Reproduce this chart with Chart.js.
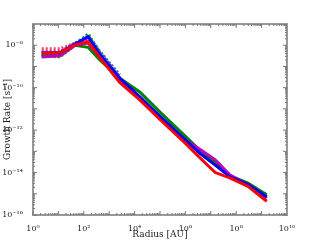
<!DOCTYPE html>
<html>
<head>
<meta charset="utf-8">
<script src="https://cdn.jsdelivr.net/npm/chart.js@4/dist/chart.umd.min.js"></script>
<style>
  html, body { margin: 0; padding: 0; background: #fff; }
  #box { width: 320px; height: 240px; }
</style>
</head>
<body>
<div id="box"><canvas id="c"></canvas></div>
<script>
// radius in AU
const radius = [2.2, 11.5, 45, 148, 437, 2.6e3, 1.6e4, 1e5, 9.6e5, 3.7e6, 1.5e7, 5.6e7, 2.9e8, 1.6e9];
// log10 of growth rate, solid runs
const blueLog    = [-8.36, -8.36, -7.95, -7.60, -8.45, -9.55, -10.43, -11.35, -12.45, -13.10, -13.65, -14.20, -14.55, -15.15];
const greenLog   = [-8.50, -8.50, -8.00, -8.10, -8.70, -9.55, -10.20, -11.15, -12.27, -12.95, -13.55, -14.15, -14.50, -15.05];
const magentaLog = [-8.55, -8.50, -8.00, -7.90, -8.55, -9.60, -10.50, -11.40, -12.45, -12.90, -13.40, -14.10, -14.60, -15.20];
const redLog     = [-8.36, -8.36, -7.98, -7.84, -8.60, -9.75, -10.58, -11.50, -12.60, -13.30, -14.00, -14.25, -14.65, -15.35];
// dotted runs (inner region only)
const dotRadius     = [2.2, 11.5, 45, 148, 437, 2.6e3];
const blueDotLog    = [-8.30, -8.30, -7.90, -7.55, -8.30, -9.40];
const greenDotLog   = [-8.50, -8.55, -8.00, -7.46, -8.35, -9.50];
const magentaDotLog = [-8.45, -8.45, -7.95, -7.70, -8.45, -9.55];
const redDotLog     = [-8.17, -8.17, -7.90, -7.80, -8.55, -9.65];

const xTicks = [0, 2, 4, 6, 8, 10];
const yTicks = [-16, -14, -12, -10, -8];

const sup = s => String(s).split("").map(ch => ({"-": "⁻", "0": "⁰", "1": "¹", "2": "²", "3": "³", "4": "⁴", "5": "⁵", "6": "⁶", "7": "⁷", "8": "⁸", "9": "⁹"}[ch])).join("");

const pts = (xs, ls) => xs.map((x, i) => ({ x: x, y: Math.pow(10, ls[i]) }));

const line = (data, color, order, dotted) => ({
  data: data,
  borderColor: color,
  borderWidth: 3,
  borderDash: dotted ? [2, 2] : [],
  pointRadius: 0,
  fill: false,
  tension: 0,
  order: order,
});

// frame + inward ticks like the original plot
const frame = {
  id: "frame",
  afterDraw(chart) {
    const { ctx, chartArea: a, scales } = chart;
    ctx.save();
    ctx.strokeStyle = "#999";
    ctx.lineWidth = 2;
    ctx.strokeRect(a.left, a.top, a.right - a.left, a.bottom - a.top);
    ctx.lineWidth = 1;
    ctx.strokeStyle = "#777";
    for (let d = 0; d < 10; d++) {
      for (let m = 1; m < 10; m++) {
        const px = scales.x.getPixelForValue(m * Math.pow(10, d));
        const len = m === 1 ? 4 : 2;
        ctx.beginPath();
        ctx.moveTo(px, a.bottom); ctx.lineTo(px, a.bottom - len);
        ctx.moveTo(px, a.top); ctx.lineTo(px, a.top + len);
        ctx.stroke();
      }
    }
    for (let d = -16; d < -7; d++) {
      for (let m = 1; m < 10; m++) {
        const py = scales.y.getPixelForValue(m * Math.pow(10, d));
        const len = m === 1 ? 4 : 2;
        ctx.beginPath();
        ctx.moveTo(a.left, py); ctx.lineTo(a.left + len, py);
        ctx.moveTo(a.right, py); ctx.lineTo(a.right - len, py);
        ctx.stroke();
      }
    }
    ctx.restore();
  },
};

const font = { family: "'DejaVu Serif', serif", size: 8 };

new Chart(document.getElementById("c"), {
  type: "line",
  data: {
    datasets: [
      line(pts(dotRadius, greenDotLog), "#00a000", 8, true),
      line(pts(dotRadius, blueDotLog), "#5050ff", 7, true),
      line(pts(dotRadius, magentaDotLog), "#c000c0", 6, true),
      line(pts(dotRadius, redDotLog), "#ff4060", 5, true),
      line(pts(radius, greenLog), "#008000", 4, false),
      line(pts(radius, magentaLog), "#bf00bf", 3, false),
      line(pts(radius, blueLog), "#0000ff", 2, false),
      line(pts(radius, redLog), "#ff0000", 1, false),
    ],
  },
  options: {
    responsive: true,
    maintainAspectRatio: false,
    animation: false,
    events: [],
    layout: { padding: { left: 2, right: 33, top: 24, bottom: 0 } },
    plugins: { legend: { display: false }, tooltip: { enabled: false } },
    scales: {
      x: {
        type: "logarithmic",
        min: 1,
        max: 1e10,
        afterBuildTicks: s => { s.ticks = xTicks.map(e => ({ value: Math.pow(10, e) })); },
        afterFit: s => { s.height = 25; },
        ticks: {
          color: "#222",
          font: font,
          padding: 1,
          maxRotation: 0,
          callback: v => "10" + sup(Math.round(Math.log10(v))),
        },
        grid: { display: false },
        border: { display: false },
        title: { display: true, text: "Radius [AU]", color: "#222", font: { family: "'DejaVu Serif', serif", size: 9 }, padding: 0 },
      },
      y: {
        type: "logarithmic",
        min: 1e-16,
        max: 1e-7,
        afterBuildTicks: s => { s.ticks = yTicks.map(e => ({ value: Math.pow(10, e) })); },
        afterFit: s => { s.width = 31; },
        ticks: {
          color: "#222",
          font: font,
          padding: 2,
          callback: v => "10" + sup(Math.round(Math.log10(v))),
        },
        grid: { display: false },
        border: { display: false },
        title: { display: true, text: "Growth Rate [s⁻¹]", color: "#222", font: { family: "'DejaVu Serif', serif", size: 9 }, padding: 0 },
      },
    },
  },
  plugins: [frame],
});
</script>
</body>
</html>
